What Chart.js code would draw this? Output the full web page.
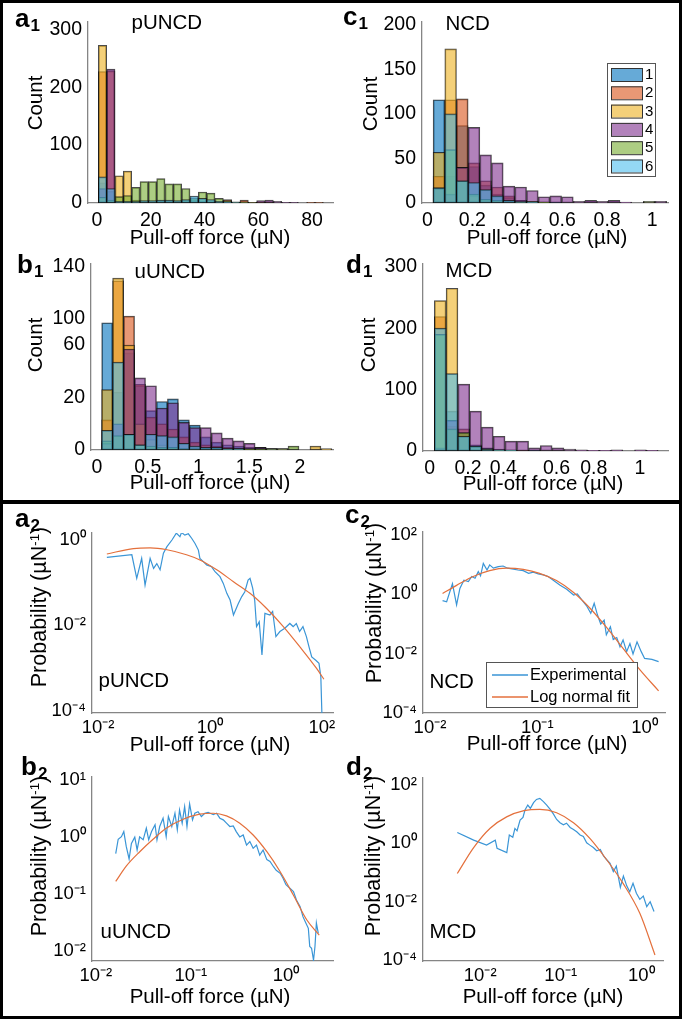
<!DOCTYPE html>
<html><head><meta charset="utf-8"><title>Pull-off force distributions</title>
<script src="https://cdn.jsdelivr.net/npm/chart.js@4.4.1/dist/chart.umd.min.js"></script>
<style>
html,body{margin:0;padding:0;background:#fff;}
body{width:685px;height:1021px;position:relative;overflow:hidden;font-family:"Liberation Sans",Arial,Helvetica,sans-serif;color:#000;}
.box{position:absolute;border:3px solid #000;box-sizing:border-box;z-index:3;}
canvas{position:absolute;z-index:1;}
.t{position:absolute;font-size:20.5px;line-height:1;white-space:nowrap;z-index:2;}
.c{transform:translate(-50%,-50%);}
.r{transform:translate(-50%,-50%) rotate(-90deg);}
.t sup{font-size:0.62em;vertical-align:0.55em;line-height:0;}
.pl{position:absolute;font-size:26px;font-weight:bold;line-height:1;z-index:2;white-space:nowrap;}
.pl span{font-size:17px;position:relative;top:4px;margin-left:1px;}
</style></head>
<body>
<div class="box" style="left:0;top:0;width:682px;height:503px"></div>
<div class="box" style="left:0;top:501px;width:682px;height:518px"></div>

<div class="pl" style="left:15px;top:5px">a<span>1</span></div>
<div class="pl" style="left:343px;top:3px">c<span>1</span></div>
<div class="pl" style="left:17px;top:251px">b<span>1</span></div>
<div class="pl" style="left:346px;top:251px">d<span>1</span></div>
<div class="pl" style="left:15px;top:505px">a<span>2</span></div>
<div class="pl" style="left:345px;top:501px">c<span>2</span></div>
<div class="pl" style="left:21px;top:753px">b<span>2</span></div>
<div class="pl" style="left:346px;top:753px">d<span>2</span></div>

<div class="t" style="left:131.5px;top:11.6px">pUNCD</div>
<div class="t" style="left:445.5px;top:12.6px">NCD</div>
<div class="t" style="left:134.5px;top:260.6px">uUNCD</div>
<div class="t" style="left:445.5px;top:259.6px">MCD</div>
<div class="t" style="left:98.5px;top:669.6px">pUNCD</div>
<div class="t" style="left:429.5px;top:670.6px">NCD</div>
<div class="t" style="left:100.5px;top:920.6px">uUNCD</div>
<div class="t" style="left:429.5px;top:920.6px">MCD</div>

<div class="t c" style="left:210px;top:237px">Pull-off force (µN)</div>
<div class="t c" style="left:547px;top:237px">Pull-off force (µN)</div>
<div class="t c" style="left:210px;top:482px">Pull-off force (µN)</div>
<div class="t c" style="left:543px;top:483px">Pull-off force (µN)</div>
<div class="t c" style="left:210px;top:744px">Pull-off force (µN)</div>
<div class="t c" style="left:547px;top:743px">Pull-off force (µN)</div>
<div class="t c" style="left:210px;top:996px">Pull-off force (µN)</div>
<div class="t c" style="left:543px;top:996px">Pull-off force (µN)</div>

<div class="t r" style="left:34.5px;top:103px">Count</div>
<div class="t r" style="left:370px;top:104px">Count</div>
<div class="t r" style="left:34.5px;top:345px">Count</div>
<div class="t r" style="left:368px;top:345px">Count</div>
<div class="t r" style="left:40px;top:607px;font-size:21.5px">Probability (µN<sup>-1</sup>)</div>
<div class="t r" style="left:375px;top:603px;font-size:21.5px">Probability (µN<sup>-1</sup>)</div>
<div class="t r" style="left:40px;top:856px;font-size:21.5px">Probability (µN<sup>-1</sup>)</div>
<div class="t r" style="left:374px;top:856px;font-size:21.5px">Probability (µN<sup>-1</sup>)</div>

<script>
// ---------------- DATA ----------------
const seriesNames = ['1','2','3','4','5','6'];

// a1 pUNCD histogram (bin centres, µN) and counts per series
const a1Bins = [2.05,5.15,8.25,11.35,14.45,17.55,20.65,23.75,26.85,29.95,33.05,36.15,39.25,42.35,45.45,48.55,51.65,54.75,57.85,60.95,64.05,67.15,70.25,73.35,76.45,79.55,82.65];
const a1S1 = [35,20,3,3,2,2,2,3,3,3,4,5,4,3,2,1,0,0,0,0,0,0,0,0,0,0,0];
const a1S2 = [227,228,0,0,0,0,0,0,0,0,0,0,0,0,1,6,1,5,1,2,1,0,0,0,0,1,1];
const a1S3 = [272,0,47,55,5,2,1,1,0,0,0,0,0,0,0,0,0,0,0,0,0,0,0,0,0,0,0];
const a1S4 = [25,231,1,1,0,0,0,0,0,0,0,0,0,1,1,2,1,1,1,4,5,3,1,1,0,0,0];
const a1S5 = [10,5,11,13,27,37,37,42,33,33,25,8,19,17,8,4,2,2,1,0,0,0,0,0,0,0,0];
const a1S6 = [45,25,3,3,3,4,4,5,5,4,6,12,8,6,3,2,1,0,0,0,0,0,0,0,0,0,0];

// c1 NCD histogram
const c1Bins = [0.051,0.103,0.155,0.207,0.259,0.311,0.363,0.415,0.467,0.519,0.571,0.623,0.675,0.727,0.779,0.831,0.883,0.935,0.987,1.039];
const c1S1 = [116,30,87,41,20,10,6,3,2,1,1,0,0,0,0,0,0,0,0,0];
const c1S2 = [30,116,117,45,25,18,8,3,2,1,0,0,0,0,0,0,0,0,0,0];
const c1S3 = [57,173,40,8,2,1,0,0,0,0,0,0,0,0,0,0,0,0,0,0];
const c1S4 = [17,10,40,85,54,45,19,18,14,7,8,7,2,3,2,3,1,0,1,2];
const c1S5 = [17,60,25,10,4,3,2,1,2,1,0,0,0,0,0,0,0,0,2,0];
const c1S6 = [17,100,25,23,15,8,3,2,1,0,0,0,0,0,0,0,0,0,0,0];

// b1 uUNCD histogram
const b1Bins = [0.1,0.208,0.316,0.424,0.532,0.64,0.748,0.856,0.964,1.072,1.18,1.288,1.396,1.504,1.612,1.72,1.828,1.936,2.044,2.152,2.26];
const b1S1 = [97,44,74,49,30,37,39,23,19,10,6,4,3,2,2,1,0,0,0,0,0];
const b1S2 = [23,129,102,50,25,20,16,10,6,4,3,2,1,1,0,0,0,0,0,0,0];
const b1S3 = [46,131,80,20,8,4,2,1,1,0,0,0,0,0,0,0,0,0,0,3,1];
const b1S4 = [5,20,77,55,49,32,36,21,17,17,13,9,7,5,2,1,1,0,0,0,0];
const b1S5 = [7,11,12,4,3,2,2,1,1,1,1,1,1,1,1,1,1,3,0,0,0];
const b1S6 = [15,67,12,4,12,11,10,5,3,2,2,1,1,0,0,0,0,0,0,0,0];

// d1 MCD histogram
const d1Bins = [0.05,0.106,0.162,0.218,0.274,0.33,0.386,0.442,0.498,0.554,0.61,0.666,0.722,0.778,0.834,0.89,0.946,1.002,1.058];
const d1S1 = [4,65,25,10,5,3,2,1,1,0,0,0,0,0,0,0,0,0,0];
const d1S2 = [219,40,36,8,3,2,1,1,0,0,0,0,0,0,0,0,0,0,0];
const d1S3 = [245,265,30,8,2,1,0,0,0,0,0,0,0,0,0,0,0,0,0];
const d1S4 = [5,50,109,65,39,24,16,16,5,9,5,3,2,1,1,2,0,2,1];
const d1S5 = [190,36,30,8,4,2,1,0,0,0,0,0,0,0,0,0,0,0,0];
const d1S6 = [200,126,24,8,3,2,1,0,0,0,0,0,0,0,0,0,0,0,0];

// a2 pUNCD probability (log-log)
const a2ExpX = [0.0143,0.040,0.049,0.060,0.069,0.085,0.098,0.112,0.128,0.147,0.170,0.209,0.25,0.29,0.31,0.355,0.41,0.47,0.54,0.62,0.66,0.76,0.87,1.07,1.23,1.51,1.73,2.0,2.29,2.63,3.2,3.7,4.2,4.8,5.2,5.8,6.3,6.8,7.6,8.5,9.6,11.8,13.2,15.1,17.8,21.8,26.8,30.7,35,40,46,53,59,66,78,89,96,102];
const a2ExpY = [0.39,0.45,0.126,0.37,0.087,0.37,0.215,0.28,0.20,0.49,0.70,1.0,1.45,1.2,1.5,1.3,1.4,1.1,0.83,0.58,0.37,0.31,0.26,0.235,0.18,0.138,0.096,0.056,0.039,0.0174,0.032,0.047,0.061,0.115,0.126,0.074,0.039,0.0093,0.012,0.002,0.019,0.0174,0.021,0.0054,0.0071,0.0085,0.011,0.0093,0.011,0.0071,0.0093,0.0054,0.0031,0.0018,0.0015,0.00127,0.00062,0.00004];
const a2FitX = [0.0143,0.0427,0.085,0.17,0.38,0.66,1.32,2.63,5.2,10.2,20.5,40.6,80,109];
const a2FitY = [0.47,0.63,0.65,0.59,0.45,0.34,0.20,0.105,0.056,0.025,0.0093,0.0031,0.00098,0.00054];

// c2 NCD probability
const c2ExpX = [0.0131,0.0143,0.0162,0.0177,0.019,0.0207,0.0228,0.0245,0.0263,0.0282,0.0296,0.0314,0.034,0.036,0.039,0.0433,0.048,0.053,0.060,0.066,0.074,0.083,0.092,0.102,0.114,0.126,0.141,0.162,0.188,0.218,0.236,0.26,0.288,0.315,0.339,0.364,0.39,0.42,0.44,0.48,0.51,0.55,0.59,0.63,0.68,0.73,0.78,0.85,0.93,1.0,1.17,1.35];
const c2ExpY = [0.61,0.56,2.3,0.44,1.58,3.0,2.7,4.0,3.5,5.8,4.2,11,6.6,9.8,7.6,8.6,9.0,7.6,7.1,6.6,6.3,5.1,5.6,4.9,4.5,4.0,3.0,2.05,1.47,0.95,1.03,0.65,0.41,0.23,0.50,0.20,0.10,0.135,0.043,0.081,0.030,0.035,0.017,0.029,0.0117,0.022,0.0098,0.025,0.0117,0.0069,0.0064,0.0054];
const c2FitX = [0.0131,0.0177,0.0253,0.036,0.052,0.074,0.105,0.151,0.218,0.31,0.45,0.63,0.91,1.35];
const c2FitY = [1.07,2.0,4.0,6.3,7.6,6.9,5.1,2.9,1.15,0.34,0.071,0.015,0.0028,0.00056];

// b2 uUNCD probability
const b2ExpX = [0.0162,0.0172,0.0186,0.0197,0.0209,0.0224,0.0237,0.0257,0.0272,0.0289,0.0315,0.034,0.036,0.0386,0.042,0.044,0.047,0.051,0.055,0.058,0.063,0.068,0.072,0.076,0.081,0.086,0.091,0.097,0.104,0.110,0.119,0.129,0.140,0.152,0.172,0.186,0.202,0.219,0.237,0.257,0.279,0.30,0.327,0.355,0.385,0.417,0.452,0.49,0.53,0.575,0.63,0.68,0.74,0.79,0.87,0.93,1.0,1.10,1.20,1.29,1.41,1.51,1.62,1.72,1.78,1.86,1.95,2.02,2.09,2.19];
const b2ExpY = [0.51,0.91,1.01,1.24,0.68,0.41,0.77,0.99,0.59,1.0,0.89,1.42,0.89,1.24,1.63,0.89,1.52,2.13,1.01,2.28,1.52,2.6,1.33,2.96,1.74,3.4,1.52,3.8,1.99,2.6,2.77,2.28,2.6,2.7,2.45,2.6,2.13,1.99,1.74,1.52,1.56,1.24,1.0,1.08,0.72,0.83,0.63,0.72,0.48,0.59,0.40,0.37,0.30,0.26,0.23,0.19,0.145,0.126,0.11,0.0785,0.060,0.040,0.031,0.025,0.012,0.0112,0.0069,0.012,0.031,0.0204];
const b2FitX = [0.0162,0.021,0.029,0.040,0.055,0.083,0.124,0.172,0.237,0.327,0.452,0.63,0.87,1.20,1.66,2.24];
const b2FitY = [0.166,0.31,0.55,0.91,1.42,2.04,2.5,2.6,2.34,1.74,1.08,0.55,0.245,0.095,0.035,0.019];

// d2 MCD probability
const d2ExpX = [0.0052,0.0083,0.012,0.0154,0.0162,0.0214,0.0230,0.0254,0.0270,0.0287,0.0313,0.034,0.036,0.039,0.042,0.046,0.050,0.055,0.061,0.067,0.074,0.081,0.089,0.098,0.108,0.118,0.131,0.144,0.158,0.174,0.191,0.210,0.23,0.254,0.28,0.31,0.34,0.37,0.41,0.45,0.49,0.55,0.60,0.66,0.72,0.79,0.87,0.96,1.06,1.17,1.29,1.44];
const d2ExpY = [2.35,1.29,0.87,1.29,0.68,0.48,1.94,1.62,3.26,2.7,6.3,7.8,13.9,20.6,15.8,24.7,32,35,27,20.6,14.7,10.2,6.6,5.1,4.3,4.9,3.5,3.0,2.5,1.94,1.71,1.05,0.87,0.72,0.56,0.62,0.37,0.28,0.205,0.107,0.166,0.031,0.076,0.035,0.022,0.043,0.0195,0.0120,0.0155,0.0068,0.0100,0.0046];
const d2FitX = [0.0052,0.0083,0.0133,0.0213,0.035,0.055,0.089,0.144,0.23,0.37,0.60,0.96,1.48];
const d2FitY = [0.093,0.72,3.3,8.1,13.2,14.7,11.2,5.1,1.48,0.28,0.041,0.0040,0.00015];

// tick values and labels (as placed in the original figure)
const a1XTicks = [0,20,40,60,80], a1XLabels = ['0','20','40','60','80'];
const a1YTicks = [0,100,200,300], a1YLabels = ['0','100','200','300'];
const c1XTicks = [0,0.2,0.4,0.6,0.8,1], c1XLabels = ['0','0.2','0.4','0.6','0.8','1'];
const c1YTicks = [0,50,100,150,200], c1YLabels = ['0','50','100','150','200'];
const b1XTicks = [0,0.5,1,1.5,2], b1XLabels = ['0','0.5','1','1.5','2'];
const b1YTicks = [0,40,80,100,140], b1YLabels = ['0','20','60','100','140'];
const d1XTicks = [0,0.182,0.35,0.603,0.78,1], d1XLabels = ['0','0.2','0.4','0.6','0.8','1'];
const d1YTicks = [0,100,200,300], d1YLabels = ['0','100','200','300'];
const a2XTicks = [0.01,1,100], a2XLabels = ['10⁻²','10⁰','10²'];
const a2YTicks = [1e-4,1e-2,1], a2YLabels = ['10⁻⁴','10⁻²','10⁰'];
const c2XTicks = [0.01,0.1,1], c2XLabels = ['10⁻²','10⁻¹','10⁰'];
const c2YTicks = [1e-4,1e-2,1,100], c2YLabels = ['10⁻⁴','10⁻²','10⁰','10²'];
const b2XTicks = [0.01,0.1,1], b2XLabels = ['10⁻²','10⁻¹','10⁰'];
const b2YTicks = [0.01,0.1,1,10], b2YLabels = ['10⁻²','10⁻¹','10⁰','10¹'];
const d2XTicks = [0.01,0.1,1], d2XLabels = ['10⁻²','10⁻¹','10⁰'];
const d2YTicks = [1e-4,1e-2,1,100], d2YLabels = ['10⁻⁴','10⁻²','10⁰','10²'];

// ---------------- STYLE / LAYOUT ----------------
const HIST_FILL = ['rgba(0,114,189,0.6)','rgba(217,83,25,0.6)','rgba(237,177,32,0.6)','rgba(126,47,142,0.6)','rgba(119,172,48,0.6)','rgba(77,190,238,0.6)'];
const HIST_EDGE = 'rgba(15,15,15,0.75)';
const EXP_COLOR = '#3a95d6', FIT_COLOR = '#e4703c';
const AXIS_COLOR = '#858585';
const FONT = '"Liberation Sans", Arial, Helvetica, sans-serif';

const PANELS = {
  a1:{cx:4,cy:4,cw:336,ch:242,area:{l:88,t:15,r:333,b:203}},
  c1:{cx:340,cy:4,cw:339,ch:242,area:{l:422,t:15,r:668,b:203}},
  b1:{cx:4,cy:246,cw:336,ch:252,area:{l:91,t:262,r:333,b:450}},
  d1:{cx:340,cy:246,cw:339,ch:252,area:{l:423,t:263,r:668,b:451}},
  a2:{cx:4,cy:505,cw:336,ch:250,area:{l:92,t:533,r:333,b:713}},
  c2:{cx:340,cy:505,cw:339,ch:250,area:{l:423,t:532,r:665,b:713}},
  b2:{cx:4,cy:755,cw:336,ch:259,area:{l:92,t:777,r:333,b:961}},
  d2:{cx:340,cy:755,cw:339,ch:259,area:{l:423,t:778,r:663,b:961}}
};

Chart.defaults.font.family = FONT;
Chart.defaults.color = '#000';

const boxLegend = {
  id:'boxLegend',
  afterDraw(chart, args, o){
    if(!o || !o.box) return;
    const ctx = chart.ctx; const [bx,by,bw,bh] = o.box;
    ctx.save();
    ctx.fillStyle = '#fff'; ctx.fillRect(bx,by,bw,bh);
    ctx.strokeStyle = o.borderColor; ctx.lineWidth = 1; ctx.strokeRect(bx+0.5,by+0.5,bw,bh);
    ctx.font = o.fontSize + 'px ' + FONT; ctx.textBaseline = 'middle'; ctx.textAlign = 'left';
    chart.data.datasets.forEach((ds,i)=>{
      const y = by + o.first + i*o.step;
      if(o.kind === 'patch'){
        ctx.fillStyle = ds.backgroundColor; ctx.fillRect(bx+o.sx, y-o.ph/2, o.sw, o.ph);
        ctx.strokeStyle = '#333'; ctx.lineWidth = 1; ctx.strokeRect(bx+o.sx+0.5, y-o.ph/2+0.5, o.sw, o.ph);
      } else {
        ctx.strokeStyle = ds.borderColor; ctx.lineWidth = 1.3;
        ctx.beginPath(); ctx.moveTo(bx+o.sx, y); ctx.lineTo(bx+o.sx+o.sw, y); ctx.stroke();
      }
      ctx.fillStyle = '#000'; ctx.fillText(ds.label, bx+o.tx, y+0.5);
    });
    ctx.restore();
  }
};
Chart.register(boxLegend);

function makeCanvas(p){
  const c = document.createElement('canvas');
  c.width = p.cw; c.height = p.ch;
  c.style.left = p.cx+'px'; c.style.top = p.cy+'px';
  c.style.width = p.cw+'px'; c.style.height = p.ch+'px';
  document.body.appendChild(c);
  return c;
}
function axis(type, range, ticks, labels, size, pad, fit){
  return {
    type, min:range[0], max:range[1], offset:false,
    grid:{display:false, drawTicks:false, tickLength:0}, border:{display:true, color:AXIS_COLOR, width:1.3},
    ticks:{autoSkip:false, maxRotation:0, minRotation:0, padding:pad, font:{size}, color:'#000',
      callback:(v,i)=>labels[i]},
    afterBuildTicks:s=>{ s.ticks = ticks.map(v=>({value:v})); },
    afterFit:fit
  };
}
function baseOptions(p, legend){
  return {
    responsive:false, animation:false, events:[],
    layout:{padding:{left:0, top:p.area.t-p.cy, right:p.cx+p.cw-p.area.r, bottom:0}},
    plugins:{legend:{display:false}, tooltip:{enabled:false}, boxLegend: legend || false}
  };
}
function histChart(key, bins, series, xr, yr, xt, xtl, yt, ytl, legend){
  const p = PANELS[key];
  const datasets = series.map((vals,i)=>({
    label:seriesNames[i],
    data:bins.map((b,k)=>({x:b, y:vals[k]})),
    backgroundColor:HIST_FILL[i], borderColor:HIST_EDGE, borderWidth:1, borderSkipped:false,
    grouped:false, barPercentage:1, categoryPercentage:1, order:series.length-i
  }));
  const opt = baseOptions(p, legend);
  opt.scales = {
    x:axis('linear', xr, xt, xtl, 19.5, 6, s=>{ s.height = p.cy+p.ch-p.area.b; }),
    y:axis('linear', yr, yt, ytl, 19.5, 6, s=>{ s.width = p.area.l-p.cx; })
  };
  new Chart(makeCanvas(p), {type:'bar', data:{datasets}, options:opt});
}
function logChart(key, ex, ey, fx, fy, xr, yr, xt, xtl, yt, ytl, legend){
  const p = PANELS[key];
  const datasets = [
    {label:'Experimental', data:ex.map((x,i)=>({x, y:ey[i]})), borderColor:EXP_COLOR, borderWidth:1.2, pointRadius:0, tension:0, fill:false, order:2},
    {label:'Log normal fit', data:fx.map((x,i)=>({x, y:fy[i]})), borderColor:FIT_COLOR, borderWidth:1.2, pointRadius:0, cubicInterpolationMode:'monotone', fill:false, order:1}
  ];
  const opt = baseOptions(p, legend);
  opt.scales = {
    x:axis('logarithmic', xr, xt, xtl, 18.5, 4, s=>{ s.height = p.cy+p.ch-p.area.b; }),
    y:axis('logarithmic', yr, yt, ytl, 18.5, 6, s=>{ s.width = p.area.l-p.cx; })
  };
  new Chart(makeCanvas(p), {type:'line', data:{datasets}, options:opt});
}

histChart('a1', a1Bins, [a1S1,a1S2,a1S3,a1S4,a1S5,a1S6], [-3.35,87.8], [0,313], a1XTicks, a1XLabels, a1YTicks, a1YLabels);
histChart('c1', c1Bins, [c1S1,c1S2,c1S3,c1S4,c1S5,c1S6], [-0.0245,1.071], [0,203.6], c1XTicks, c1XLabels, c1YTicks, c1YLabels,
  {box:[267,59,48,113], kind:'patch', sx:4, sw:31, ph:13, first:11.5, step:18.3, tx:38, fontSize:15, borderColor:'#555'});
histChart('b1', b1Bins, [b1S1,b1S2,b1S3,b1S4,b1S5,b1S6], [-0.059,2.325], [0,142], b1XTicks, b1XLabels, b1YTicks, b1YLabels);
histChart('d1', d1Bins, [d1S1,d1S2,d1S3,d1S4,d1S5,d1S6], [-0.032,1.133], [0,305], d1XTicks, d1XLabels, d1YTicks, d1YLabels);

logChart('a2', a2ExpX, a2ExpY, a2FitX, a2FitY, [0.00776,158.5], [8.7e-5,1.46], a2XTicks, a2XLabels, a2YTicks, a2YLabels);
logChart('c2', c2ExpX, c2ExpY, c2FitX, c2FitY, [0.00861,1.549], [1e-4,125.9], c2XTicks, c2XLabels, c2YTicks, c2YLabels,
  {box:[146,157,151,45], kind:'line', sx:6, sw:36, first:13, step:22, tx:44, fontSize:16.5, borderColor:'#555'});
logChart('b2', b2ExpX, b2ExpY, b2FitX, b2FitY, [0.00912,3.126], [0.00668,11.22], b2XTicks, b2XLabels, b2YTicks, b2YLabels);
logChart('d2', d2ExpX, d2ExpY, d2FitX, d2FitY, [0.00195,1.862], [9.3e-5,173.8], d2XTicks, d2XLabels, d2YTicks, d2YLabels);
</script>
</body></html>
